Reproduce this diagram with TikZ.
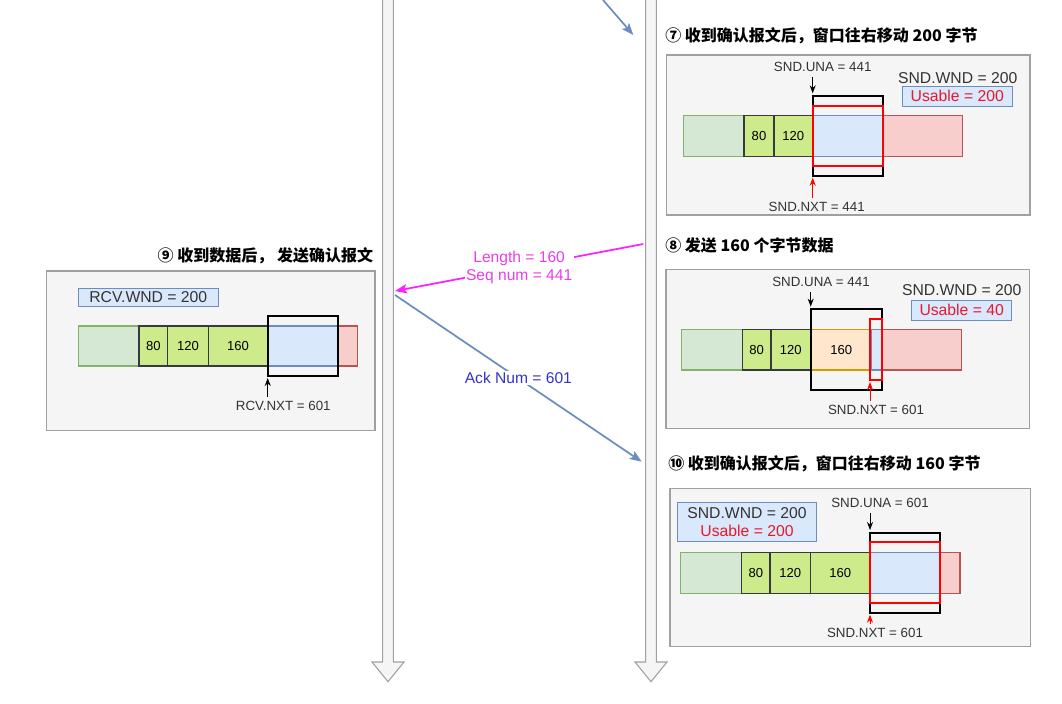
\documentclass[tikz,border=0pt]{standalone}
\usepackage{fontspec}
\setmainfont{Liberation Sans}
\newfontfamily\cjk{Noto Sans CJK SC}
\usetikzlibrary{arrows.meta,calc}
\definecolor{panelbg}{HTML}{F5F5F5}
\definecolor{panelline}{HTML}{A0A0A0}
\definecolor{gfill}{HTML}{D5E8D4}
\definecolor{gline}{HTML}{82B366}
\definecolor{lgfill}{HTML}{CDEB8B}
\definecolor{segline}{HTML}{36393D}
\definecolor{bfill}{HTML}{DAE8FC}
\definecolor{bline}{HTML}{6C8EBF}
\definecolor{rfill}{HTML}{F8CECC}
\definecolor{rline}{HTML}{B85450}
\definecolor{ofill}{HTML}{FFE6CC}
\definecolor{oline}{HTML}{D79B00}
\definecolor{magline}{HTML}{FF1FFF}
\definecolor{magtext}{HTML}{E83EE8}
\definecolor{acktext}{HTML}{3333CC}
\definecolor{redtext}{HTML}{E8182A}
\definecolor{darktext}{HTML}{333333}
\definecolor{shaftline}{HTML}{A0A0A0}
\newcommand\mybox[7]{%
  \pgfmathsetmacro\bxw{abs(#5-#3)*0.75}%
  \pgfmathsetmacro\bxh{abs(#6-#4)*0.75}%
  \node[#2, minimum width=\bxw pt, minimum height=\bxh pt, inner sep=0pt, outer sep=0pt] (#1) at ({(#3+#5)/2},{(#4+#6)/2}) {#7};}
\tikzset{
  panel/.style={draw=panelline, fill=panelbg, line width=0.8pt},
  seg/.style={draw=segline, fill=lgfill, line width=1pt, font=\fontsize{9.8}{11}\selectfont, text=black},
  done/.style={draw=gline, fill=gfill, line width=1pt},
  avail/.style={draw=bline, fill=bfill, line width=1pt},
  future/.style={draw=rline, fill=rfill, line width=1pt},
  sent/.style={draw=oline, fill=ofill, line width=1pt, font=\fontsize{9.8}{11}\selectfont, text=black},
  win/.style={draw=black, line width=1.6pt},
  usable/.style={draw=red, line width=1.6pt},
  ptr/.style={font=\fontsize{10}{12}\selectfont, text=darktext, inner sep=0pt},
  wndlbl/.style={font=\fontsize{11.8}{13}\selectfont, text=darktext, inner sep=0pt},
  infobox/.style={draw=bline, fill=bfill, line width=0.6pt, font=\fontsize{11.8}{13}\selectfont, align=center},
  title/.style={font=\cjk\bfseries\fontsize{12}{14}\selectfont, text=black, inner sep=0pt},
  ptrarrow/.style={draw=black, line width=0.7pt, -{Stealth[length=6pt,width=4.5pt]}},
  redarrow/.style={draw=red, line width=0.7pt, -{Stealth[length=6pt,width=4.5pt]}},
  msgblue/.style={draw=bline, line width=1.3pt, -{Stealth[length=9pt,width=7pt,inset=2pt]}},
  msgmag/.style={draw=magline, line width=1.3pt, -{Stealth[length=9pt,width=7pt,inset=2pt]}},
  msglbl/.style={fill=white, inner sep=1pt, font=\fontsize{11.7}{13.5}\selectfont, align=center},
  shaft/.style={draw=shaftline, fill=panelbg, line width=0.8pt}
}
\begin{document}
\begin{tikzpicture}[x=0.75pt,y=-0.75pt]
\useasboundingbox (0,0) rectangle (1062,703);
\fill[white] (0,0) rectangle (1062,703);

% timelines
\foreach \cx/\nm in {388/left,651/right}{
  \fill[panelbg] (\cx-5.3,0) -- (\cx-5.3,662) -- (\cx-16,662) -- (\cx,681.7) -- (\cx+16,662) -- (\cx+5.3,662) -- (\cx+5.3,0) -- cycle;
  \draw[shaftline, line width=0.8pt, line join=miter] (\cx-5.3,0) -- (\cx-5.3,662) -- (\cx-16,662) -- (\cx,681.7) -- (\cx+16,662) -- (\cx+5.3,662) -- (\cx+5.3,0);
}

% ---------- panel 7 ----------
\node[title, anchor=west] (t7) at (665,35.5) {⑦ 收到确认报文后，窗口往右移动 200 字节};
\mybox{p7}{panel}{666.7}{55}{1030}{215}{}
\mybox{d7}{done}{683.3}{115.7}{744}{156.7}{}
\mybox{a80s7}{seg}{744}{115.7}{774}{156.7}{80}
\mybox{a120s7}{seg}{774}{115.7}{812.7}{156.7}{120}
\mybox{av7}{avail}{812.7}{115.7}{883.3}{156.7}{}
\mybox{f7}{future}{883.3}{115.7}{962.7}{156.7}{}
\mybox{w7}{win}{812.7}{96}{883.3}{175.7}{}
\mybox{u7}{usable}{812.7}{106}{883.3}{166}{}
\node[ptr] (una7) at (822.7,66.7) {SND.UNA = 441};
\draw[ptrarrow] (una7.south -| w7.north west) ++(0,5) -- ([yshift=2pt]w7.north west);
\node[ptr] (nxt7) at (816.7,206.7) {SND.NXT = 441};
\draw[redarrow] (nxt7.north -| w7.south west) ++(0,-4) -- ([yshift=-1.5pt]w7.south west);
\node[wndlbl] (wnd7) at (957.7,77.7) {SND.WND = 200};
\mybox{ub7}{infobox, text=redtext}{902.3}{86}{1012.3}{106.7}{Usable = 200}

% ---------- panel 8 ----------
\node[title, anchor=west] (t8) at (665,245) {⑧ 发送 160 个字节数据};
\mybox{p8}{panel}{666}{269.3}{1029.3}{428.3}{}
\mybox{d8}{done}{681.7}{329.3}{742.3}{370}{}
\mybox{a80s8}{seg}{742.3}{329.3}{771}{370}{80}
\mybox{a120s8}{seg}{771}{329.3}{810.7}{370}{120}
\mybox{s160s8}{sent}{810.7}{329.3}{871.7}{370}{160}
\mybox{av8}{avail}{871.7}{329.3}{881.7}{370}{}
\mybox{f8}{future}{881.7}{329.3}{961.7}{370}{}
\mybox{w8}{win}{810.7}{309.3}{881.7}{390}{}
\mybox{u8}{usable}{870}{319.3}{881.7}{380}{}
\node[ptr] (una8) at (821,281.7) {SND.UNA = 441};
\draw[ptrarrow] (una8.south -| w8.north west) ++(0,5) -- ([yshift=2pt]w8.north west);
\node[ptr] (nxt8) at (876,410) {SND.NXT = 601};
\draw[redarrow] (nxt8.north -| u8.south west) ++(0,-4) -- ([yshift=-1.5pt]u8.south west);
\node[wndlbl] (wnd8) at (961.7,290) {SND.WND = 200};
\mybox{ub8}{infobox, text=redtext}{911.7}{300.7}{1011.7}{320}{Usable = 40}

% ---------- panel 10 ----------
\node[title, anchor=west] (t10) at (668,464) {⑩ 收到确认报文后，窗口往右移动 160 字节};
\mybox{p10}{panel}{670}{488.3}{1030.7}{646.7}{}
\mybox{d10}{done}{680.7}{552.7}{741.7}{593.3}{}
\mybox{a80s10}{seg}{741.7}{552.7}{770}{593.3}{80}
\mybox{a120s10}{seg}{770}{552.7}{810.7}{593.3}{120}
\mybox{a160s10}{seg}{810.7}{552.7}{870}{593.3}{160}
\mybox{av10}{avail}{870}{552.7}{940}{593.3}{}
\mybox{f10}{future}{940}{552.7}{960}{593.3}{}
\mybox{w10}{win}{870}{532.7}{940}{612.7}{}
\mybox{u10}{usable}{870}{542.3}{940}{602.7}{}
\node[ptr] (una10) at (880,503.3) {SND.UNA = 601};
\draw[ptrarrow] (una10.south -| w10.north west) ++(0,5) -- ([yshift=2pt]w10.north west);
\node[ptr] (nxt10) at (875,633.3) {SND.NXT = 601};
\draw[redarrow] (nxt10.north -| w10.south west) ++(0,-4) -- ([yshift=-1.5pt]w10.south west);
\mybox{ib10}{infobox, text=darktext}{677.3}{502.7}{816.7}{541.7}{SND.WND = 200\\\textcolor{redtext}{Usable = 200}}

% ---------- panel 9 ----------
\node[title, anchor=east] (t9) at (373.3,255.7) {⑨ 收到数据后， 发送确认报文};
\mybox{p9}{panel}{46.7}{271}{375}{430.7}{}
\mybox{rw9}{infobox, text=darktext}{78.3}{288.3}{218.3}{306.7}{RCV.WND = 200}
\mybox{d9}{done}{78.3}{326}{139}{366}{}
\mybox{a80s9}{seg}{139}{326}{167.7}{366}{80}
\mybox{a120s9}{seg}{167.7}{326}{208.3}{366}{120}
\mybox{a160s9}{seg}{208.3}{326}{267.7}{366}{160}
\mybox{av9}{avail}{267.7}{326}{337.7}{366}{}
\mybox{f9}{future}{337.7}{326}{357.7}{366}{}
\mybox{w9}{win}{267.7}{316}{337.7}{376}{}
\node[ptr] (nxt9) at (283.3,405.7) {RCV.NXT = 601};
\draw[ptrarrow] (nxt9.north -| w9.south west) ++(0,-4) -- ([yshift=-1.5pt]w9.south west);

% ---------- messages ----------
\coordinate (prevsrc) at (603,0);
\coordinate (ack7) at (633.3,35);
\coordinate (snd8) at (643.3,244);
\coordinate (rcv9) at (395,291);
\coordinate (ack9) at (395,295);
\coordinate (rcv10) at (641.7,461.7);
\draw[msgblue] (prevsrc) -- (ack7);
\draw[msgmag] (snd8) -- node[msglbl, text=magtext, pos=0.5] (seglbl) {Length = 160\\Seq num = 441} (rcv9);
\draw[msgblue] (ack9) -- node[msglbl, text=acktext, pos=0.5] (acklbl) {Ack Num = 601} (rcv10);
\end{tikzpicture}
\end{document}
